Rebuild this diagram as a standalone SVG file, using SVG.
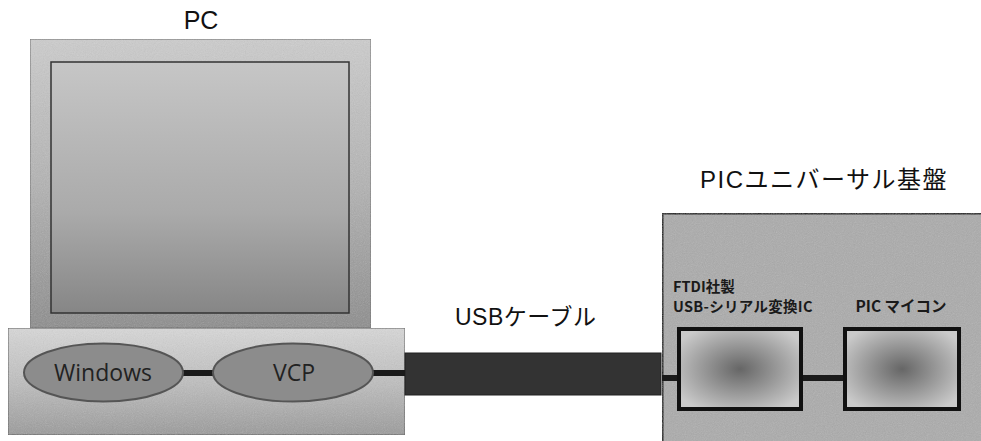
<svg xmlns="http://www.w3.org/2000/svg" width="981" height="441" viewBox="0 0 981 441">
<defs>
<linearGradient id="gMon" x1="0" y1="0" x2="0" y2="1">
<stop offset="0" stop-color="#cdcdcd"/><stop offset="0.5" stop-color="#b3b3b3"/><stop offset="1" stop-color="#8c8c8c"/>
</linearGradient>
<linearGradient id="gScr" x1="0" y1="0" x2="0" y2="1">
<stop offset="0" stop-color="#c6c6c6"/><stop offset="0.6" stop-color="#aaaaaa"/><stop offset="1" stop-color="#868686"/>
</linearGradient>
<linearGradient id="gBase" x1="0" y1="0" x2="0" y2="1">
<stop offset="0" stop-color="#d8d8d8"/><stop offset="0.5" stop-color="#bfbfbf"/><stop offset="1" stop-color="#9a9a9a"/>
</linearGradient>
<radialGradient id="gBox" cx="0.5" cy="0.5" r="0.6">
<stop offset="0" stop-color="#666"/><stop offset="1" stop-color="#cacaca"/>
</radialGradient>
<filter id="noise" x="0" y="0" width="1" height="1">
<feTurbulence type="fractalNoise" baseFrequency="0.9" numOctaves="2" result="n"/>
<feColorMatrix type="saturate" values="0" in="n" result="g"/>
<feComponentTransfer in="g" result="a"><feFuncA type="linear" slope="0.25"/></feComponentTransfer>
<feComposite in="a" in2="SourceGraphic" operator="in" result="c"/>
<feMerge><feMergeNode in="SourceGraphic"/><feMergeNode in="c"/></feMerge>
</filter>
</defs>
<style>
.lbl{font-family:"Liberation Sans","Noto Sans CJK JP",sans-serif;font-size:23px;fill:#111}
.sm{font-family:"Noto Sans CJK JP","Noto Sans",sans-serif;font-size:14.5px;font-weight:bold;fill:#1a1a1a}
.ell{fill:#8c8c8c;stroke:#555;stroke-width:2}
.etx{font-family:"Open Sans","Noto Sans",sans-serif;font-size:23px;fill:#222;text-anchor:middle}
.box{fill:url(#gBox);stroke:#111;stroke-width:4}
.wire{stroke:#1a1a1a;stroke-width:6;fill:none}
</style>

<g id="pc">
<text class="lbl" x="201" y="29" text-anchor="middle" style="font-size:25px">PC</text>
<rect x="30" y="39" width="341" height="289" fill="url(#gMon)" stroke="#666" stroke-width="1" filter="url(#noise)"/>
<rect x="51" y="62" width="298" height="251" fill="url(#gScr)" stroke="#333" stroke-width="1.5"/>
<rect x="8" y="328" width="397" height="107" fill="url(#gBase)" stroke="#555" stroke-width="1" filter="url(#noise)"/>
</g>

<g id="board">
<text class="lbl" x="700" y="188" style="font-size:24px;letter-spacing:1.5px">PICユニバーサル基盤</text>
<rect x="662" y="213" width="330" height="240" fill="#ababab" stroke="#111" stroke-width="3" filter="url(#noise)"/>
</g>

<g id="cable">
<rect x="405" y="353" width="256" height="42" fill="#333" stroke="#222" stroke-width="1"/>
<text class="lbl" x="455" y="325" style="letter-spacing:0.5px">USBケーブル</text>
</g>

<g id="connectors">
<line class="wire" x1="182" y1="373" x2="214" y2="373"/>
<line class="wire" x1="372" y1="373" x2="405" y2="373"/>
<line class="wire" x1="662" y1="378" x2="679" y2="378"/>
<line class="wire" x1="803" y1="378" x2="843" y2="378"/>
</g>

<g id="windows">
<ellipse class="ell" cx="103.5" cy="372.5" rx="79.5" ry="29"/>
<text class="etx" x="103" y="381">Windows</text>
</g>

<g id="vcp">
<ellipse class="ell" cx="293" cy="372.5" rx="80" ry="29"/>
<text class="etx" x="294" y="381">VCP</text>
</g>

<g id="ftdi">
<text class="sm" x="673" y="292">FTDI社製</text>
<text class="sm" x="673" y="312" style="letter-spacing:0.3px">USB-シリアル変換IC</text>
<rect class="box" x="679" y="329" width="122" height="80"/>
</g>

<g id="pic">
<text class="sm" x="901" y="312" text-anchor="middle" style="font-size:15.5px">PIC マイコン</text>
<rect class="box" x="845" y="329" width="114" height="80"/>
</g>
</svg>
